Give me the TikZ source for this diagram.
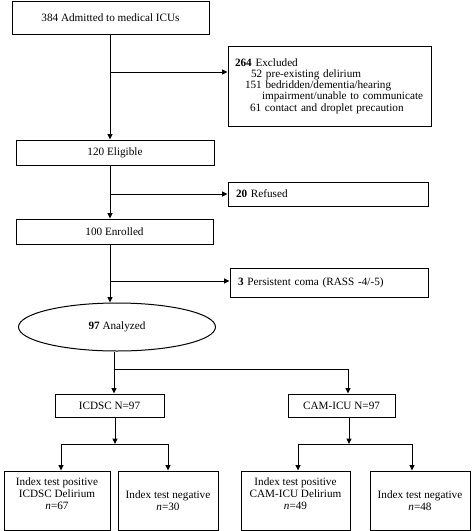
\documentclass[tikz,border=0pt]{standalone}
\usepackage{fontspec}
\setmainfont{Liberation Serif}
\usetikzlibrary{arrows.meta,shapes.geometric}

\begin{document}
\begin{tikzpicture}[x=1pt,y=-1pt,
  font=\fontsize{11.2}{11.2}\selectfont,
  box/.style={draw,line width=1pt,inner sep=0pt},
  leaf/.style={box,minimum height=59pt,align=center,font=\fontsize{11.2}{12}\selectfont},
  posleaf/.style={leaf,text depth=13pt},
  arr/.style={-{Triangle[length=5.5pt,width=5pt]},line width=1pt}]
\useasboundingbox (0,0) rectangle (474,531);
% main column
\node[box,minimum width=197pt,minimum height=33pt] (admit) at (110.5,17.5) {384 Admitted to medical ICUs};
\node[box,minimum width=198pt,minimum height=25pt] (elig) at (115,152.5) {120 Eligible};
\node[box,minimum width=197pt,minimum height=25pt] (enrol) at (114.5,231.5) {100 Enrolled};
\node[box,ellipse,minimum width=197pt,minimum height=48pt] (ana) at (117,327) {\textbf{97} Analyzed};
% exclusions
\node[box,minimum width=203pt,minimum height=80pt,text width=189pt,align=left] (excl) at (329.5,86)
  {\textbf{264} Excluded\\\hspace*{16pt}52 pre-existing delirium\\\hspace*{10pt}151 bedridden/dementia/hearing\\\hspace*{27pt}impairment/unable to communicate\\\hspace*{15pt}61 contact and droplet precaution};
\node[box,minimum width=200pt,minimum height=24pt,text width=184pt,align=left] (refus) at (328,194) {\textbf{20} Refused};
\node[box,minimum width=198pt,minimum height=29pt,text width=182pt,align=left] (coma) at (329,282.5) {\textbf{3} Persistent coma (RASS -4/-5)};
% index tests
\node[box,minimum width=109pt,minimum height=23pt] (icdsc) at (109.5,405.5) {ICDSC N=97};
\node[box,minimum width=107pt,minimum height=23pt] (cam) at (341.5,405.5) {CAM-ICU N=97};
\node[posleaf,minimum width=106pt] (pos1) at (57,500.5) {Index test positive\\ICDSC Delirium\\\textit{n}=67};
\node[leaf,minimum width=100pt] (neg1) at (168,500.5) {Index test negative\\\textit{n}=30};
\node[posleaf,minimum width=109pt] (pos2) at (295.5,500.5) {Index test positive\\CAM-ICU Delirium\\\textit{n}=49};
\node[leaf,minimum width=100pt] (neg2) at (420,500.5) {Index test negative\\\textit{n}=48};
% branch points
\coordinate (b1) at (110,72);
\coordinate (b2) at (110,194);
\coordinate (b3) at (110,281);
\coordinate (b4) at (114,369);
\coordinate (b5) at (348,369);
\coordinate (s1) at (115,444);
\coordinate (s1l) at (61,444);
\coordinate (s1r) at (168,444);
\coordinate (s2) at (349,444);
\coordinate (s2l) at (298,444);
\coordinate (s2r) at (412,444);
% connectors
\draw[arr] (admit.south -| b1) -- (elig.north -| b1);
\draw[arr] (b1) -- (excl.west |- b1);
\draw[arr] (elig.south -| b2) -- (enrol.north -| b2);
\draw[arr] (b2) -- (refus.west |- b2);
\draw[arr] (enrol.south -| b3) -- (b3 |- ana.north);
\draw[arr] (b3) -- (coma.west |- b3);
\draw[arr] (ana.south -| b4) -- (icdsc.north -| b4);
\draw[line width=1pt] (b4) -- (b5);
\draw[arr] (b5) -- (cam.north -| b5);
\draw[arr] (icdsc.south -| s1) -- (s1);
\draw[line width=1pt] (s1l) -- (s1r);
\draw[arr] (s1l) -- (pos1.north -| s1l);
\draw[arr] (s1r) -- (neg1.north -| s1r);
\draw[arr] (cam.south -| s2) -- (s2);
\draw[line width=1pt] (s2l) -- (s2r);
\draw[arr] (s2l) -- (pos2.north -| s2l);
\draw[arr] (s2r) -- (neg2.north -| s2r);
\end{tikzpicture}
\end{document}
